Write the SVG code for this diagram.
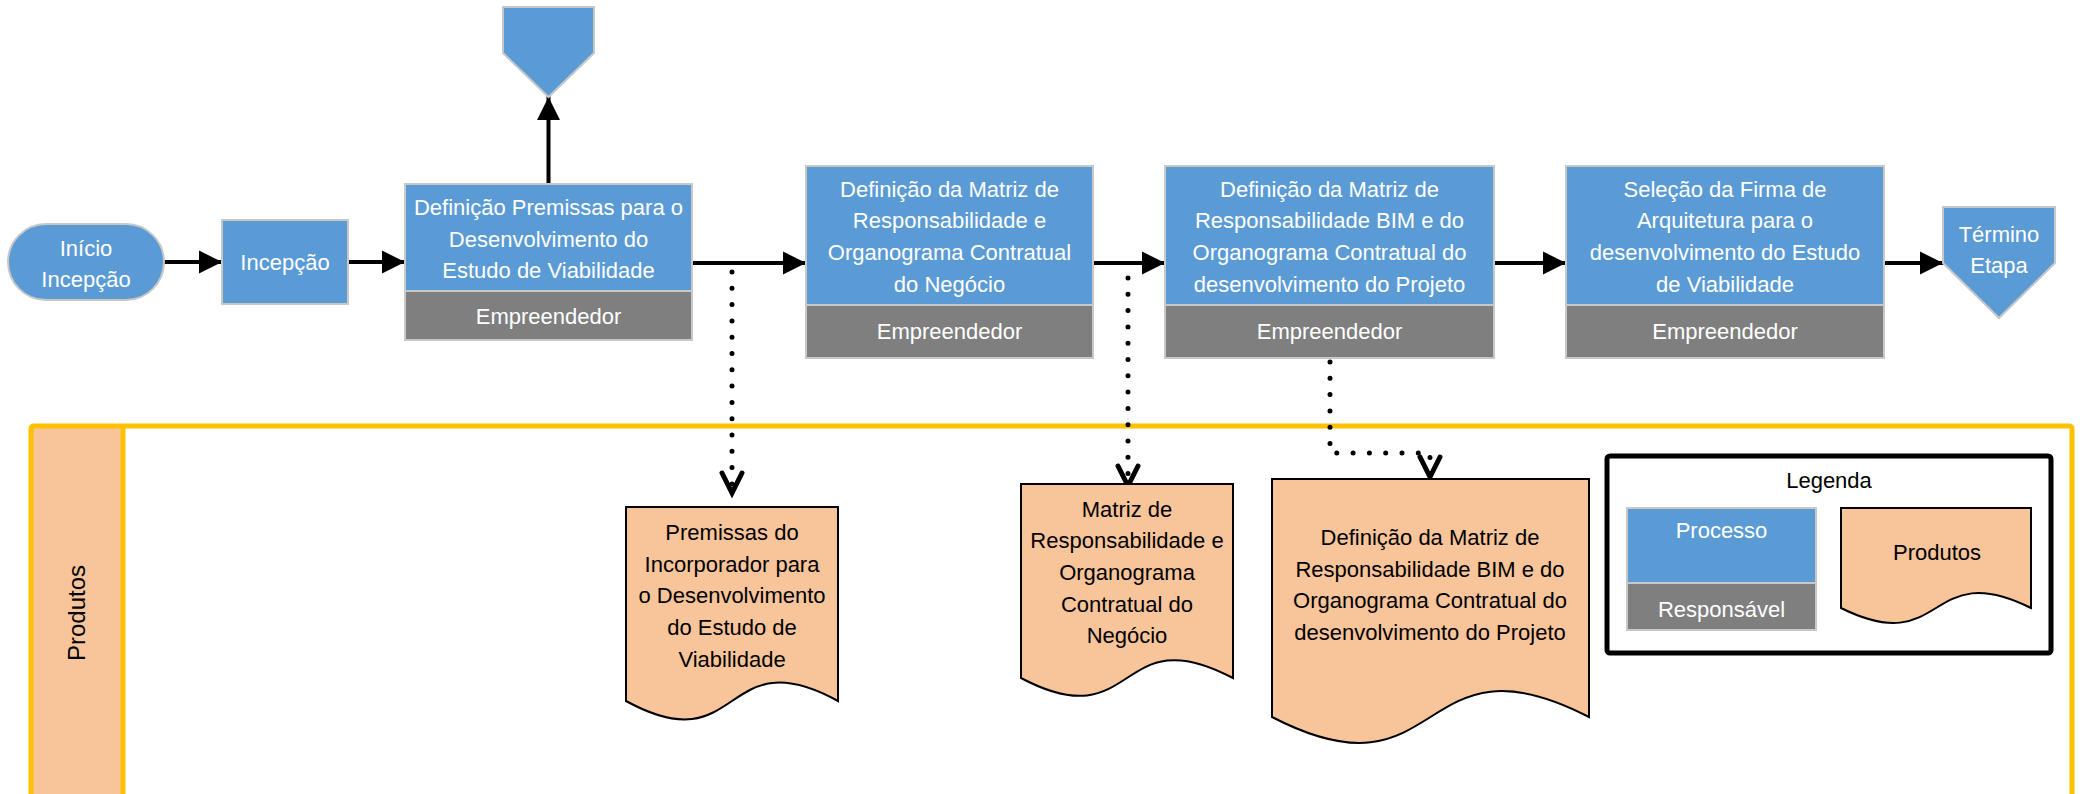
<svg xmlns="http://www.w3.org/2000/svg" width="2085" height="794" viewBox="0 0 2085 794">
<style>
.proc{fill:#5B9BD5;stroke:#C8C8C8;stroke-width:2}
.resp{fill:#7F7F7F;stroke:#C8C8C8;stroke-width:2}
.doc{fill:#F8C49A;stroke:#000;stroke-width:2}
.wt{font-family:"Liberation Sans",Arial,sans-serif;font-size:22px;fill:#fff;text-anchor:middle}
.bt{font-family:"Liberation Sans",Arial,sans-serif;font-size:22px;fill:#000;text-anchor:middle}
.flow{stroke:#000;stroke-width:4;fill:none;stroke-linecap:round;marker-end:url(#ah)}
.dot{stroke:#000;stroke-width:5;fill:none;stroke-linecap:round;stroke-dasharray:0 16.3;marker-end:url(#vh)}
</style>
<defs>
<marker id="ah" markerUnits="userSpaceOnUse" markerWidth="24" markerHeight="24" refX="23" refY="11.5" orient="auto" overflow="visible">
<path d="M0,0 L23,11.5 L0,23 z" fill="#000"/>
</marker>
<marker id="vh" markerUnits="userSpaceOnUse" markerWidth="24" markerHeight="24" refX="21" refY="11" orient="auto" overflow="visible">
<path d="M1,1 L21,11 L1,21" fill="none" stroke="#000" stroke-width="5" stroke-linecap="round" stroke-linejoin="miter"/>
</marker>
</defs>
<rect width="2085" height="794" fill="#fff"/>

<g id="lane">
<rect x="31" y="426" width="92" height="380" fill="#F8C49A"/>
<path d="M31,800 V429 Q31,426 34,426 H2069 Q2072,426 2072,429 V800" fill="none" stroke="#FFC000" stroke-width="5"/>
<line x1="123" y1="426" x2="123" y2="800" stroke="#FFC000" stroke-width="5"/>
<text x="76" y="613" transform="rotate(-90 76 613)" font-family="'Liberation Sans',Arial,sans-serif" font-size="24" text-anchor="middle" dominant-baseline="central" fill="#000">Produtos</text>
</g>

<g id="connectors">
<line class="flow" x1="164" y1="262" x2="222" y2="262"/>
<line class="flow" x1="348" y1="262" x2="405" y2="262"/>
<line class="flow" x1="548.5" y1="184" x2="548.5" y2="97"/>
<line class="flow" x1="692" y1="263" x2="806" y2="263"/>
<line class="flow" x1="1093" y1="263" x2="1165" y2="263"/>
<line class="flow" x1="1494" y1="263" x2="1566" y2="263"/>
<line class="flow" x1="1884" y1="263" x2="1943" y2="263"/>
<path class="dot" d="M732,272 L732,493"/>
<path class="dot" d="M1128,278 L1128,486"/>
<path class="dot" d="M1330,362 L1330,453 L1430,453 L1430,477"/>
</g>

<g id="inicio">
<rect class="proc" x="8" y="224" width="156" height="76" rx="38" ry="38"/>
<text class="wt" x="86" y="256">Início</text>
<text class="wt" x="86" y="287">Incepção</text>
</g>

<g id="incepcao">
<rect class="proc" x="222" y="220" width="126" height="84"/>
<text class="wt" x="285" y="270">Incepção</text>
</g>

<g id="offpage">
<polygon class="proc" points="503,7 594,7 594,53 548.5,97 503,53"/>
</g>

<g id="box1">
<rect class="proc" x="405" y="184" width="287" height="107"/>
<rect class="resp" x="405" y="291" width="287" height="49"/>
<text class="wt" x="548.5" y="215">Definição Premissas para o</text>
<text class="wt" x="548.5" y="247">Desenvolvimento do</text>
<text class="wt" x="548.5" y="278">Estudo de Viabilidade</text>
<text class="wt" x="548.5" y="324">Empreendedor</text>
</g>

<g id="box2">
<rect class="proc" x="806" y="166" width="287" height="139"/>
<rect class="resp" x="806" y="305" width="287" height="53"/>
<text class="wt" x="949.5" y="197">Definição da Matriz de</text>
<text class="wt" x="949.5" y="228">Responsabilidade e</text>
<text class="wt" x="949.5" y="260">Organograma Contratual</text>
<text class="wt" x="949.5" y="292">do Negócio</text>
<text class="wt" x="949.5" y="339">Empreendedor</text>
</g>

<g id="box3">
<rect class="proc" x="1165" y="166" width="329" height="139"/>
<rect class="resp" x="1165" y="305" width="329" height="53"/>
<text class="wt" x="1329.5" y="197">Definição da Matriz de</text>
<text class="wt" x="1329.5" y="228">Responsabilidade BIM e do</text>
<text class="wt" x="1329.5" y="260">Organograma Contratual do</text>
<text class="wt" x="1329.5" y="292">desenvolvimento do Projeto</text>
<text class="wt" x="1329.5" y="339">Empreendedor</text>
</g>

<g id="box4">
<rect class="proc" x="1566" y="166" width="318" height="139"/>
<rect class="resp" x="1566" y="305" width="318" height="53"/>
<text class="wt" x="1725" y="197">Seleção da Firma de</text>
<text class="wt" x="1725" y="228">Arquitetura para o</text>
<text class="wt" x="1725" y="260">desenvolvimento do Estudo</text>
<text class="wt" x="1725" y="292">de Viabilidade</text>
<text class="wt" x="1725" y="339">Empreendedor</text>
</g>

<g id="termino">
<polygon class="proc" points="1943,207 2055,207 2055,263 1999,318 1943,263"/>
<text class="wt" x="1999" y="242">Término</text>
<text class="wt" x="1999" y="273">Etapa</text>
</g>

<g id="doc1">
<path class="doc" d="M626,507 H838 V701 C721,637 743,765 626,701 Z"/>
<text class="bt" x="732" y="540">Premissas do</text>
<text class="bt" x="732" y="572">Incorporador para</text>
<text class="bt" x="732" y="603">o Desenvolvimento</text>
<text class="bt" x="732" y="635">do Estudo de</text>
<text class="bt" x="732" y="667">Viabilidade</text>
</g>

<g id="doc2">
<path class="doc" d="M1021,484 H1233 V678 C1116,616 1138,740 1021,678 Z"/>
<text class="bt" x="1127" y="517">Matriz de</text>
<text class="bt" x="1127" y="548">Responsabilidade e</text>
<text class="bt" x="1127" y="580">Organograma</text>
<text class="bt" x="1127" y="612">Contratual do</text>
<text class="bt" x="1127" y="643">Negócio</text>
</g>

<g id="doc3">
<path class="doc" d="M1272,479 H1589 V717 C1415,627 1446,807 1272,717 Z"/>
<text class="bt" x="1430" y="545">Definição da Matriz de</text>
<text class="bt" x="1430" y="577">Responsabilidade BIM e do</text>
<text class="bt" x="1430" y="608">Organograma Contratual do</text>
<text class="bt" x="1430" y="640">desenvolvimento do Projeto</text>
</g>

<g id="legend">
<rect x="1607" y="456" width="444" height="197" rx="3" fill="#fff" stroke="#000" stroke-width="5"/>
<text class="bt" x="1829" y="488">Legenda</text>
<rect class="proc" x="1627" y="508" width="189" height="75"/>
<rect class="resp" x="1627" y="583" width="189" height="47"/>
<text class="wt" x="1721.5" y="538">Processo</text>
<text class="wt" x="1721.5" y="617">Responsável</text>
<path class="doc" d="M1841,508 H2031 V608 C1926,556 1946,660 1841,608 Z"/>
<text class="bt" x="1937" y="560">Produtos</text>
</g>
</svg>
